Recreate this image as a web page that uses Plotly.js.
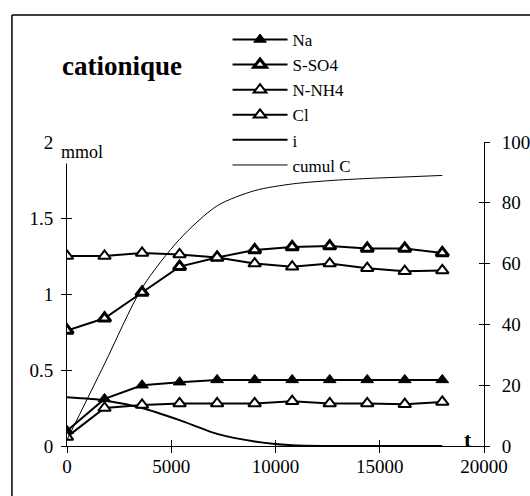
<!DOCTYPE html>
<html>
<head>
<meta charset="utf-8">
<script src="https://cdn.plot.ly/plotly-3.0.1.min.js"></script>
<style>html,body{margin:0;padding:0;background:#fff}#chart{width:530px;height:496px}</style>
</head>
<body>
<div id="chart"></div>
<script>
var timeS = [0, 1800, 3600, 5400, 7200, 9000, 10800, 12600, 14400, 16200, 18000];
var naVals = [0.10, 0.31, 0.40, 0.42, 0.435, 0.435, 0.435, 0.435, 0.435, 0.435, 0.435];
var so4Vals = [0.76, 0.84, 1.01, 1.18, 1.24, 1.29, 1.31, 1.315, 1.30, 1.30, 1.27];
var nh4Vals = [0.06, 0.25, 0.27, 0.28, 0.28, 0.28, 0.295, 0.28, 0.28, 0.275, 0.29];
var clVals = [1.25, 1.25, 1.27, 1.26, 1.24, 1.20, 1.18, 1.20, 1.17, 1.15, 1.155];
var iVals = [0.32, 0.30, 0.25, 0.17, 0.08, 0.03, 0.005, 0, 0, 0, 0];
var cumulCVals = [2, 27, 52, 68, 79, 84, 86.2, 87.3, 88, 88.5, 89];
var seriesNames = ["Na", "S-SO4", "N-NH4", "Cl", "i", "cumul C"];
var leftTicks = [0, 0.5, 1, 1.5, 2];
var leftTickText = ["0", "0.5", "1", "1.5", "2"];
var rightTicks = [0, 20, 40, 60, 80, 100];
var rightTickText = ["0", "20", "40", "60", "80", "100"];
var xTicks = [0, 5000, 10000, 15000, 20000];
var xTickText = ["0", "5000", "10000", "15000", "20000"];

var F = "Liberation Serif, Times New Roman, serif";

function markerTrace(name, yv, style, rank) {
  return {
    x: timeS, y: yv, name: name, type: "scatter", mode: "lines+markers", legendrank: rank,
    line: {color: "#000", width: 2},
    marker: style
  };
}
var tNa = markerTrace(seriesNames[0], naVals, {symbol: "triangle-up", size: 11, color: "#000", line: {color: "#000", width: 1}}, 1);
var tSO4 = markerTrace(seriesNames[1], so4Vals, {symbol: "triangle-up", size: 11, color: "#fff", line: {color: "#000", width: 3}}, 2);
var tNH4 = markerTrace(seriesNames[2], nh4Vals, {symbol: "triangle-up", size: 11, color: "#fff", line: {color: "#000", width: 2}}, 3);
var tCl = markerTrace(seriesNames[3], clVals, {symbol: "triangle-up", size: 11, color: "#fff", line: {color: "#000", width: 2}}, 4);
var tI = {x: timeS, y: iVals, name: seriesNames[4], type: "scatter", mode: "lines", legendrank: 5,
   line: {color: "#000", width: 2, shape: "spline", smoothing: 0.6}};
var tCum = {x: timeS, y: cumulCVals, name: seriesNames[5], type: "scatter", mode: "lines", yaxis: "y2", legendrank: 6,
   line: {color: "#000", width: 1, shape: "spline", smoothing: 0.8}};
var tickHelperL = {x: [], y: [], xaxis: "x2", yaxis: "y3", showlegend: false, hoverinfo: "skip"};
var tickHelperR = {x: [], y: [], xaxis: "x2", yaxis: "y4", showlegend: false, hoverinfo: "skip"};

var ordered = [tCum, tI, tNa, tSO4, tNH4, tCl, tickHelperL, tickHelperR];

var tickFont = {family: F, size: 19, color: "#000"};
var layout = {
  width: 530, height: 496,
  margin: {l: 67, r: 46, t: 142, b: 50},
  paper_bgcolor: "#fff", plot_bgcolor: "rgba(0,0,0,0)",
  showlegend: true,
  legend: {x: 0.385, y: 1.395, xanchor: "left", yanchor: "top", bgcolor: "rgba(0,0,0,0)",
           font: {family: F, size: 17, color: "#000"}, itemwidth: 55, tracegroupgap: 0,
           traceorder: "normal"},
  xaxis: {range: [0, 20000], tickvals: xTicks, ticktext: xTickText, ticks: "inside", ticklen: 6,
          tickcolor: "#000", showline: true, linecolor: "#000", linewidth: 1, showgrid: false,
          zeroline: false, tickfont: tickFont, ticklabelstandoff: 3},
  xaxis2: {range: [0, 20000], overlaying: "x", anchor: "y3", tickvals: xTicks, ticks: "outside",
           ticklen: 6, tickcolor: "#000", showticklabels: false, showline: false, showgrid: false, zeroline: false},
  yaxis: {range: [0, 2], tickvals: leftTicks, ticktext: leftTickText, ticks: "outside", ticklen: 5,
          tickcolor: "#000", showline: true, linecolor: "#000", linewidth: 1, showgrid: false,
          zeroline: false, tickfont: tickFont, ticklabelstandoff: 4},
  yaxis2: {range: [0, 100], overlaying: "y", side: "right", anchor: "x", tickvals: rightTicks,
           ticktext: rightTickText, ticks: "outside", ticklen: 5, tickcolor: "#000", showline: true,
           linecolor: "#000", linewidth: 1, showgrid: false, zeroline: false, tickfont: tickFont,
           ticklabelstandoff: 8},
  yaxis3: {range: [0, 2], overlaying: "y", anchor: "x2", side: "left", tickvals: leftTicks, ticks: "inside",
           ticklen: 5, tickcolor: "#000", showticklabels: false, showline: false, showgrid: false, zeroline: false},
  yaxis4: {range: [0, 100], overlaying: "y", anchor: "x2", side: "right", tickvals: rightTicks, ticks: "inside",
           ticklen: 5, tickcolor: "#000", showticklabels: false, showline: false, showgrid: false, zeroline: false},
  annotations: [
    {text: "cationique", xref: "paper", yref: "paper", x: 0.132, y: 1.25, xanchor: "center", yanchor: "middle",
     showarrow: false, font: {family: F, size: 27, color: "#000", weight: "bold"}},
    {text: "mmol", xref: "paper", yref: "paper", x: 0.036, y: 0.967, xanchor: "center", yanchor: "middle",
     showarrow: false, font: {family: F, size: 18, color: "#000"}, bgcolor: "#fff"},
    {text: "t", xref: "paper", yref: "paper", x: 0.962, y: 0.02, xanchor: "center", yanchor: "middle",
     showarrow: false, font: {family: F, size: 22, color: "#000", weight: "bold"}}
  ],
  shapes: [
    {type: "line", xref: "paper", yref: "paper", x0: -0.132, x1: 1.2, y0: 1.418, y1: 1.418,
     line: {color: "#000", width: 1.5}, layer: "below"},
    {type: "line", xref: "paper", yref: "paper", x0: -0.132, x1: -0.132, y0: -0.25, y1: 1.418,
     line: {color: "#000", width: 1.5}, layer: "below"}
  ]
};
Plotly.newPlot("chart", ordered, layout, {displayModeBar: false, staticPlot: true});
</script>
</body>
</html>
